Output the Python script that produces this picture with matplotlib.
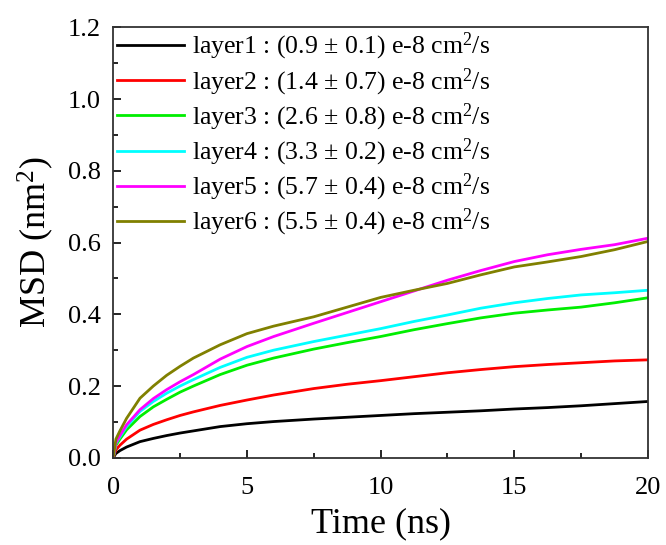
import numpy as np
import matplotlib
matplotlib.use('Agg')
import matplotlib.pyplot as plt
from matplotlib.ticker import MultipleLocator

plt.rcParams['font.family'] = 'Liberation Serif'
plt.rcParams['mathtext.fontset'] = 'custom'
plt.rcParams['mathtext.rm'] = 'Liberation Serif'
plt.rcParams['mathtext.it'] = 'Liberation Serif:italic'

# time (ns)
time = [0, 0.1, 0.25, 0.5, 1, 1.5, 2, 2.5, 3, 4, 5, 6, 7.5, 8.75, 10,
        11.25, 12.5, 13.75, 15, 16.25, 17.5, 18.75, 20]

# MSD (nm^2) per layer
layer1 = [0, 0.012, 0.02, 0.03, 0.045, 0.054, 0.062, 0.069, 0.075, 0.087, 0.095, 0.101,
          0.108, 0.113, 0.118, 0.123, 0.127, 0.131, 0.136, 0.140, 0.145, 0.151, 0.157]
layer2 = [0, 0.022, 0.035, 0.052, 0.077, 0.093, 0.106, 0.118, 0.128, 0.146, 0.161, 0.175,
          0.193, 0.205, 0.215, 0.226, 0.237, 0.246, 0.254, 0.260, 0.265, 0.270, 0.273]
layer3 = [0, 0.035, 0.052, 0.078, 0.115, 0.142, 0.163, 0.183, 0.2, 0.232, 0.258, 0.278,
          0.303, 0.321, 0.338, 0.357, 0.374, 0.39, 0.403, 0.412, 0.42, 0.432, 0.446]
layer4 = [0, 0.04, 0.058, 0.087, 0.129, 0.157, 0.18, 0.2, 0.218, 0.252, 0.28, 0.3,
          0.324, 0.342, 0.36, 0.38, 0.398, 0.417, 0.432, 0.444, 0.454, 0.46, 0.467]
layer5 = [0, 0.042, 0.062, 0.092, 0.134, 0.165, 0.19, 0.212, 0.232, 0.275, 0.31, 0.338,
          0.375, 0.405, 0.435, 0.465, 0.495, 0.522, 0.547, 0.566, 0.581, 0.594, 0.612]
layer6 = [0, 0.052, 0.075, 0.11, 0.166, 0.2, 0.23, 0.255, 0.278, 0.315, 0.346, 0.367,
          0.393, 0.42, 0.447, 0.467, 0.486, 0.51, 0.532, 0.546, 0.561, 0.58, 0.603]

labels = ['layer1 : (0.9 $\\pm$ 0.1) e-8 cm$^2$/s',
          'layer2 : (1.4 $\\pm$ 0.7) e-8 cm$^2$/s',
          'layer3 : (2.6 $\\pm$ 0.8) e-8 cm$^2$/s',
          'layer4 : (3.3 $\\pm$ 0.2) e-8 cm$^2$/s',
          'layer5 : (5.7 $\\pm$ 0.4) e-8 cm$^2$/s',
          'layer6 : (5.5 $\\pm$ 0.4) e-8 cm$^2$/s']
colors = ['black', '#ff0000', '#00ee00', '#00ffff', '#ff00ff', '#808000']

fig = plt.figure(figsize=(6.66, 5.45), dpi=100)
ax = fig.add_axes([0.170, 0.160, 0.803, 0.790])

for y, lab, c in zip([layer1, layer2, layer3, layer4, layer5, layer6], labels, colors):
    ax.plot(time, y, color=c, lw=2.0, label=lab)

ax.set_xlim(0, 20)
ax.set_ylim(0, 1.2)
ax.xaxis.set_major_locator(MultipleLocator(5))
ax.xaxis.set_minor_locator(MultipleLocator(2.5))
ax.yaxis.set_major_locator(MultipleLocator(0.2))
ax.yaxis.set_minor_locator(MultipleLocator(0.1))
ax.yaxis.set_major_formatter(matplotlib.ticker.FormatStrFormatter('%.1f'))
ax.tick_params(which='both', direction='in', top=False, right=False, labelsize=19)
ax.tick_params(which='major', length=6, width=1.2, pad=9)
ax.tick_params(axis='x', which='major', pad=14)
ax.tick_params(which='minor', length=3.5, width=1.2)
for s in ax.spines.values():
    s.set_linewidth(1.3)
    s.set_color('#333333')

ax.set_xlabel('Time (ns)', fontsize=26, labelpad=6)
ax.set_ylabel('MSD (nm$^2$)', fontsize=26, labelpad=8)

ax.legend(loc='upper left', frameon=False, fontsize=18.5, handlelength=2.6,
          handletextpad=0.3, labelspacing=0.15, borderaxespad=0.0,
          borderpad=0.15, bbox_to_anchor=(0.0, 1.0))

fig.savefig('out.png', dpi=100)
